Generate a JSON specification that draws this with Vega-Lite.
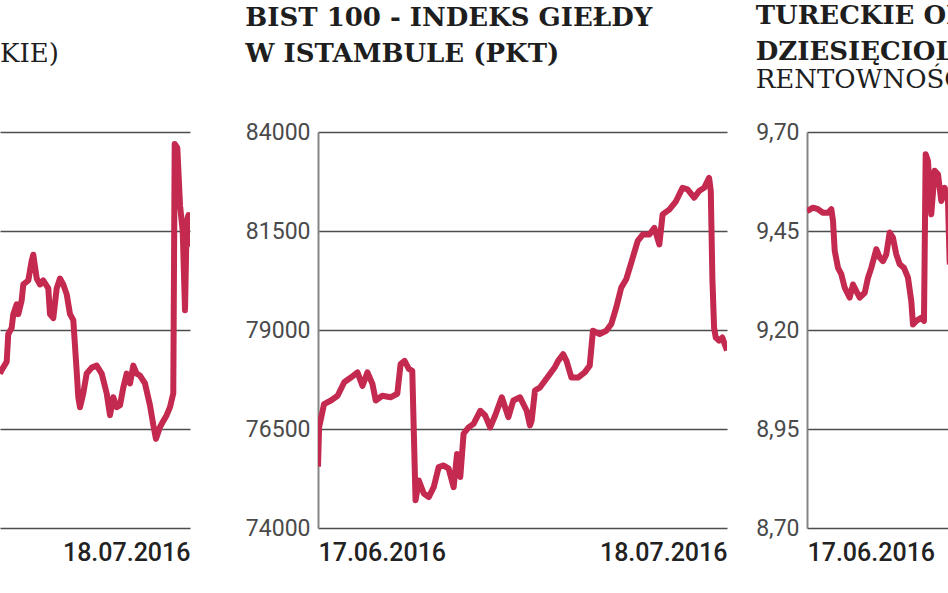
{
  "$schema": "https://vega.github.io/schema/vega-lite/v6.json",
  "padding": {"left": 0, "top": 3, "right": 0, "bottom": 0},
  "background": "white",
  "datasets": {
    "kurs": [
      {"czas": "2016-07-03T14:00", "kurs": 2.928},
      {"czas": "2016-07-03T20:00", "kurs": 2.931},
      {"czas": "2016-07-04T02:30", "kurs": 2.934},
      {"czas": "2016-07-04T05:20", "kurs": 2.948},
      {"czas": "2016-07-04T11:30", "kurs": 2.951},
      {"czas": "2016-07-04T14:30", "kurs": 2.958},
      {"czas": "2016-07-04T20:40", "kurs": 2.963},
      {"czas": "2016-07-04T23:30", "kurs": 2.958},
      {"czas": "2016-07-05T05:45", "kurs": 2.965},
      {"czas": "2016-07-05T08:40", "kurs": 2.973},
      {"czas": "2016-07-05T17:45", "kurs": 2.975},
      {"czas": "2016-07-05T23:55", "kurs": 2.985},
      {"czas": "2016-07-06T02:50", "kurs": 2.988},
      {"czas": "2016-07-06T09:05", "kurs": 2.976},
      {"czas": "2016-07-06T15:05", "kurs": 2.973},
      {"czas": "2016-07-06T21:05", "kurs": 2.975},
      {"czas": "2016-07-07T06:10", "kurs": 2.971},
      {"czas": "2016-07-07T09:15", "kurs": 2.958},
      {"czas": "2016-07-07T15:15", "kurs": 2.956},
      {"czas": "2016-07-07T21:25", "kurs": 2.971},
      {"czas": "2016-07-08T03:25", "kurs": 2.976},
      {"czas": "2016-07-08T09:25", "kurs": 2.973},
      {"czas": "2016-07-08T15:40", "kurs": 2.968},
      {"czas": "2016-07-08T21:40", "kurs": 2.958},
      {"czas": "2016-07-09T03:40", "kurs": 2.955},
      {"czas": "2016-07-09T09:50", "kurs": 2.929},
      {"czas": "2016-07-09T12:45", "kurs": 2.916},
      {"czas": "2016-07-09T15:50", "kurs": 2.911},
      {"czas": "2016-07-09T21:50", "kurs": 2.918},
      {"czas": "2016-07-10T04:00", "kurs": 2.928},
      {"czas": "2016-07-10T13:10", "kurs": 2.931},
      {"czas": "2016-07-10T22:15", "kurs": 2.932},
      {"czas": "2016-07-11T07:20", "kurs": 2.928},
      {"czas": "2016-07-11T16:25", "kurs": 2.918},
      {"czas": "2016-07-11T22:25", "kurs": 2.907},
      {"czas": "2016-07-12T04:25", "kurs": 2.916},
      {"czas": "2016-07-12T10:40", "kurs": 2.911},
      {"czas": "2016-07-12T16:40", "kurs": 2.912},
      {"czas": "2016-07-12T22:40", "kurs": 2.921},
      {"czas": "2016-07-13T04:50", "kurs": 2.928},
      {"czas": "2016-07-13T10:50", "kurs": 2.923},
      {"czas": "2016-07-13T16:50", "kurs": 2.932},
      {"czas": "2016-07-13T23:00", "kurs": 2.928},
      {"czas": "2016-07-14T05:00", "kurs": 2.927},
      {"czas": "2016-07-14T14:05", "kurs": 2.923},
      {"czas": "2016-07-14T23:10", "kurs": 2.912},
      {"czas": "2016-07-15T05:15", "kurs": 2.902},
      {"czas": "2016-07-15T10:05", "kurs": 2.895},
      {"czas": "2016-07-15T17:25", "kurs": 2.901},
      {"czas": "2016-07-15T23:25", "kurs": 2.904},
      {"czas": "2016-07-16T05:35", "kurs": 2.907},
      {"czas": "2016-07-16T11:35", "kurs": 2.911},
      {"czas": "2016-07-16T17:35", "kurs": 2.918},
      {"czas": "2016-07-16T20:10", "kurs": 3.044},
      {"czas": "2016-07-17T00:55", "kurs": 3.042},
      {"czas": "2016-07-17T05:50", "kurs": 3.013},
      {"czas": "2016-07-17T10:45", "kurs": 3.0},
      {"czas": "2016-07-17T14:55", "kurs": 2.96},
      {"czas": "2016-07-17T18:00", "kurs": 3.005},
      {"czas": "2016-07-17T21:15", "kurs": 3.008},
      {"czas": "2016-07-18T00:00", "kurs": 2.992}
    ],
    "bist": [
      {"czas": "2016-06-17T00:00", "pkt": 75550},
      {"czas": "2016-06-17T02:00", "pkt": 76540},
      {"czas": "2016-06-17T11:00", "pkt": 77130},
      {"czas": "2016-06-17T23:30", "pkt": 77220},
      {"czas": "2016-06-18T11:40", "pkt": 77340},
      {"czas": "2016-06-18T23:40", "pkt": 77680},
      {"czas": "2016-06-19T11:45", "pkt": 77800},
      {"czas": "2016-06-19T23:50", "pkt": 77930},
      {"czas": "2016-06-20T09:00", "pkt": 77590},
      {"czas": "2016-06-20T18:00", "pkt": 77930},
      {"czas": "2016-06-21T03:00", "pkt": 77640},
      {"czas": "2016-06-21T09:00", "pkt": 77220},
      {"czas": "2016-06-21T21:00", "pkt": 77340},
      {"czas": "2016-06-22T12:00", "pkt": 77300},
      {"czas": "2016-06-23T00:15", "pkt": 77390},
      {"czas": "2016-06-23T06:15", "pkt": 78140},
      {"czas": "2016-06-23T13:30", "pkt": 78220},
      {"czas": "2016-06-23T21:15", "pkt": 78020},
      {"czas": "2016-06-24T03:30", "pkt": 77970},
      {"czas": "2016-06-24T09:25", "pkt": 74700},
      {"czas": "2016-06-24T15:25", "pkt": 75200},
      {"czas": "2016-06-25T00:25", "pkt": 74870},
      {"czas": "2016-06-25T09:30", "pkt": 74780},
      {"czas": "2016-06-25T18:30", "pkt": 75030},
      {"czas": "2016-06-26T03:35", "pkt": 75540},
      {"czas": "2016-06-26T12:40", "pkt": 75580},
      {"czas": "2016-06-26T21:40", "pkt": 75500},
      {"czas": "2016-06-27T06:45", "pkt": 75030},
      {"czas": "2016-06-27T12:55", "pkt": 75870},
      {"czas": "2016-06-27T18:50", "pkt": 75290},
      {"czas": "2016-06-28T00:50", "pkt": 76380},
      {"czas": "2016-06-28T09:55", "pkt": 76540},
      {"czas": "2016-06-28T19:00", "pkt": 76630},
      {"czas": "2016-06-29T07:05", "pkt": 76960},
      {"czas": "2016-06-29T16:10", "pkt": 76840},
      {"czas": "2016-06-30T01:10", "pkt": 76540},
      {"czas": "2016-06-30T10:15", "pkt": 76840},
      {"czas": "2016-06-30T22:20", "pkt": 77300},
      {"czas": "2016-07-01T10:20", "pkt": 76800},
      {"czas": "2016-07-01T19:20", "pkt": 77220},
      {"czas": "2016-07-02T07:30", "pkt": 77300},
      {"czas": "2016-07-02T19:40", "pkt": 76960},
      {"czas": "2016-07-03T01:35", "pkt": 76590},
      {"czas": "2016-07-03T04:40", "pkt": 76710},
      {"czas": "2016-07-03T10:40", "pkt": 77470},
      {"czas": "2016-07-03T19:40", "pkt": 77550},
      {"czas": "2016-07-04T04:45", "pkt": 77720},
      {"czas": "2016-07-04T13:50", "pkt": 77890},
      {"czas": "2016-07-04T22:50", "pkt": 78060},
      {"czas": "2016-07-05T04:50", "pkt": 78220},
      {"czas": "2016-07-05T13:50", "pkt": 78390},
      {"czas": "2016-07-05T20:00", "pkt": 78220},
      {"czas": "2016-07-06T05:05", "pkt": 77800},
      {"czas": "2016-07-06T17:00", "pkt": 77800},
      {"czas": "2016-07-07T05:10", "pkt": 77930},
      {"czas": "2016-07-07T14:15", "pkt": 78100},
      {"czas": "2016-07-07T20:10", "pkt": 78980},
      {"czas": "2016-07-08T08:20", "pkt": 78900},
      {"czas": "2016-07-08T20:25", "pkt": 78980},
      {"czas": "2016-07-09T05:30", "pkt": 79150},
      {"czas": "2016-07-09T14:35", "pkt": 79570},
      {"czas": "2016-07-09T23:35", "pkt": 80070},
      {"czas": "2016-07-10T08:40", "pkt": 80280},
      {"czas": "2016-07-10T20:35", "pkt": 80830},
      {"czas": "2016-07-11T05:40", "pkt": 81250},
      {"czas": "2016-07-11T14:40", "pkt": 81410},
      {"czas": "2016-07-12T02:50", "pkt": 81410},
      {"czas": "2016-07-12T11:55", "pkt": 81580},
      {"czas": "2016-07-12T20:55", "pkt": 81160},
      {"czas": "2016-07-13T02:55", "pkt": 81920},
      {"czas": "2016-07-13T15:00", "pkt": 82040},
      {"czas": "2016-07-14T03:10", "pkt": 82250},
      {"czas": "2016-07-14T15:05", "pkt": 82590},
      {"czas": "2016-07-15T00:10", "pkt": 82550},
      {"czas": "2016-07-15T12:15", "pkt": 82340},
      {"czas": "2016-07-15T21:20", "pkt": 82510},
      {"czas": "2016-07-16T06:25", "pkt": 82590},
      {"czas": "2016-07-16T15:25", "pkt": 82840},
      {"czas": "2016-07-16T18:30", "pkt": 82510},
      {"czas": "2016-07-16T21:25", "pkt": 80300},
      {"czas": "2016-07-17T00:30", "pkt": 79060},
      {"czas": "2016-07-17T03:35", "pkt": 78810},
      {"czas": "2016-07-17T09:35", "pkt": 78730},
      {"czas": "2016-07-17T15:30", "pkt": 78810},
      {"czas": "2016-07-18T00:00", "pkt": 78480}
    ],
    "obligacje": [
      {"czas": "2016-06-17T00:00", "rentownosc": 9.500},
      {"czas": "2016-06-17T11:00", "rentownosc": 9.509},
      {"czas": "2016-06-17T20:00", "rentownosc": 9.505},
      {"czas": "2016-06-18T05:05", "rentownosc": 9.496},
      {"czas": "2016-06-18T14:10", "rentownosc": 9.496},
      {"czas": "2016-06-18T20:15", "rentownosc": 9.505},
      {"czas": "2016-06-18T23:20", "rentownosc": 9.475},
      {"czas": "2016-06-19T02:25", "rentownosc": 9.400},
      {"czas": "2016-06-19T08:25", "rentownosc": 9.357},
      {"czas": "2016-06-19T14:25", "rentownosc": 9.341},
      {"czas": "2016-06-19T20:35", "rentownosc": 9.307},
      {"czas": "2016-06-20T05:40", "rentownosc": 9.282},
      {"czas": "2016-06-20T11:40", "rentownosc": 9.315},
      {"czas": "2016-06-20T17:40", "rentownosc": 9.298},
      {"czas": "2016-06-20T23:55", "rentownosc": 9.282},
      {"czas": "2016-06-21T09:00", "rentownosc": 9.294},
      {"czas": "2016-06-21T15:00", "rentownosc": 9.332},
      {"czas": "2016-06-21T21:00", "rentownosc": 9.357},
      {"czas": "2016-06-22T06:05", "rentownosc": 9.404},
      {"czas": "2016-06-22T12:15", "rentownosc": 9.383},
      {"czas": "2016-06-22T18:15", "rentownosc": 9.374},
      {"czas": "2016-06-23T00:15", "rentownosc": 9.391},
      {"czas": "2016-06-23T06:25", "rentownosc": 9.446},
      {"czas": "2016-06-23T12:25", "rentownosc": 9.433},
      {"czas": "2016-06-23T18:25", "rentownosc": 9.391},
      {"czas": "2016-06-24T00:40", "rentownosc": 9.366},
      {"czas": "2016-06-24T08:30", "rentownosc": 9.357},
      {"czas": "2016-06-24T15:45", "rentownosc": 9.332},
      {"czas": "2016-06-24T21:45", "rentownosc": 9.273},
      {"czas": "2016-06-25T00:50", "rentownosc": 9.214},
      {"czas": "2016-06-25T06:50", "rentownosc": 9.223},
      {"czas": "2016-06-25T15:55", "rentownosc": 9.231},
      {"czas": "2016-06-25T20:50", "rentownosc": 9.223},
      {"czas": "2016-06-25T23:55", "rentownosc": 9.644},
      {"czas": "2016-06-26T04:05", "rentownosc": 9.627},
      {"czas": "2016-06-26T10:05", "rentownosc": 9.492},
      {"czas": "2016-06-26T16:20", "rentownosc": 9.602},
      {"czas": "2016-06-26T22:20", "rentownosc": 9.593},
      {"czas": "2016-06-27T04:20", "rentownosc": 9.526},
      {"czas": "2016-06-27T10:30", "rentownosc": 9.559},
      {"czas": "2016-06-27T16:30", "rentownosc": 9.526},
      {"czas": "2016-06-27T19:35", "rentownosc": 9.370},
      {"czas": "2016-06-27T22:00", "rentownosc": 9.450}
    ]
  },
  "spacing": 55,
  "hconcat": [
    {
      "width": 190,
      "height": 396,
      "title": {"text": "KIE)", "fontWeight": "normal", "offset": 65},
      "data": {"name": "kurs"},
      "mark": {"type": "line", "color": "#c4294f", "strokeWidth": 6, "strokeJoin": "round", "clip": true},
      "encoding": {
        "x": {
          "field": "czas", "type": "temporal",
          "scale": {"domain": [{"year": 2016, "month": 7, "date": 3, "hours": 14, "minutes": 17}, {"year": 2016, "month": 7, "date": 18}]},
          "axis": {"values": [{"year": 2016, "month": 7, "date": 18}], "format": "%d.%m.%Y", "labelFlush": true}
        },
        "y": {
          "field": "kurs", "type": "quantitative",
          "scale": {"domain": [2.85, 3.05]},
          "axis": {"values": [2.85, 2.9, 2.95, 3.0, 3.05], "labels": false, "domain": false}
        }
      }
    },
    {
      "spacing": 28,
      "hconcat": [
        {
          "width": 409,
          "height": 396,
          "title": {"text": ["BIST 100 - INDEKS GIEŁDY", "W ISTAMBULE (PKT)"], "offset": 54},
          "data": {"name": "bist"},
          "mark": {"type": "line", "color": "#c4294f", "strokeWidth": 6, "strokeJoin": "round", "clip": true},
          "encoding": {
            "x": {
              "field": "czas", "type": "temporal",
              "scale": {"domain": [{"year": 2016, "month": 6, "date": 17}, {"year": 2016, "month": 7, "date": 18}]},
              "axis": {"values": [{"year": 2016, "month": 6, "date": 17}, {"year": 2016, "month": 7, "date": 18}], "format": "%d.%m.%Y", "labelFlush": true}
            },
            "y": {
              "field": "pkt", "type": "quantitative",
              "scale": {"domain": [74000, 84000]},
              "axis": {"values": [74000, 76500, 79000, 81500, 84000], "format": "d"}
            }
          }
        },
        {
          "width": 144,
          "height": 396,
          "title": {"text": ["TURECKIE OBLIGACJE", "DZIESIĘCIOLETNIE"], "subtitle": "RENTOWNOŚĆ (%)", "offset": 28},
          "data": {"name": "obligacje"},
          "mark": {"type": "line", "color": "#c4294f", "strokeWidth": 6, "strokeJoin": "round", "clip": true},
          "encoding": {
            "x": {
              "field": "czas", "type": "temporal",
              "scale": {"domain": [{"year": 2016, "month": 6, "date": 17}, {"year": 2016, "month": 6, "date": 27, "hours": 22}]},
              "axis": {"values": [{"year": 2016, "month": 6, "date": 17}], "format": "%d.%m.%Y", "labelFlush": true}
            },
            "y": {
              "field": "rentownosc", "type": "quantitative",
              "scale": {"domain": [8.7, 9.7]},
              "axis": {"values": [8.7, 8.95, 9.2, 9.45, 9.7], "labelExpr": "replace(format(datum.value, '.2f'), '.', ',')"}
            }
          }
        }
      ]
    }
  ],
  "config": {
    "view": {"stroke": null},
    "axis": {
      "title": null,
      "ticks": false,
      "labelFont": "Roboto",
      "gridColor": "#4d4d4d",
      "gridWidth": 1.5,
      "gridOpacity": 1,
      "domainColor": "#858585",
      "domainWidth": 2
    },
    "axisY": {"labelFontSize": 23, "labelColor": "#4a4a4a", "labelPadding": 8, "grid": true},
    "axisX": {"labelFontSize": 25, "labelFontWeight": 500, "labelColor": "#222222", "labelPadding": 12, "grid": false, "domain": false},
    "title": {
      "anchor": "start",
      "frame": "bounds",
      "font": "DejaVu Serif",
      "fontSize": 26,
      "fontWeight": "bold",
      "color": "#1e1e1e",
      "lineHeight": 36,
      "subtitleFont": "DejaVu Serif",
      "subtitleFontSize": 26,
      "subtitleColor": "#1e1e1e",
      "subtitlePadding": 2
    }
  }
}
